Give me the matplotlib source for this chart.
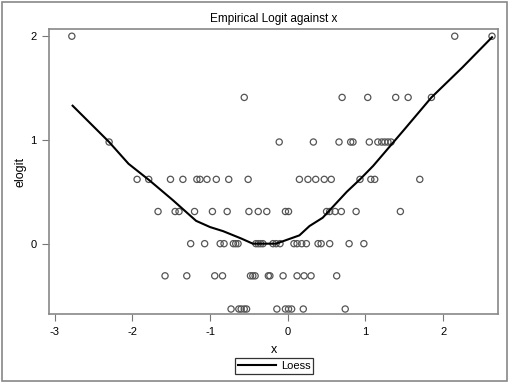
import matplotlib
matplotlib.use("Agg")
import matplotlib.pyplot as plt
from matplotlib.patches import Rectangle

plt.rcParams['font.family'] = ['Liberation Sans', 'DejaVu Sans']
plt.rcParams['axes.unicode_minus'] = False

# empirical logit levels and the x values observed at each level
levels = [2.0, 1.41, 0.98, 0.62, 0.31, 0.0, -0.31, -0.63]
x_at_2 = [-2.78, 2.15, 2.63]
x_at_141 = [-0.56, 0.70, 1.03, 1.39, 1.55, 1.85]
x_at_098 = [-2.30, -0.11, 0.33, 0.66, 0.81, 0.84, 1.05, 1.16, 1.21, 1.25, 1.29, 1.33]
x_at_062 = [-1.94, -1.79, -1.51, -1.35, -1.17, -1.13, -1.04, -0.92, -0.76, -0.51,
            0.15, 0.26, 0.36, 0.47, 0.56, 0.93, 1.07, 1.12, 1.70]
x_at_031 = [-1.67, -1.45, -1.40, -1.20, -0.97, -0.78, -0.50, -0.38, -0.27, -0.03,
            0.01, 0.50, 0.54, 0.61, 0.69, 0.88, 1.45]
x_at_0 = [-1.25, -1.07, -0.87, -0.82, -0.70, -0.67, -0.64, -0.41, -0.38, -0.35,
          -0.32, -0.19, -0.15, -0.10, 0.08, 0.12, 0.18, 0.24, 0.39, 0.43, 0.54,
          0.79, 0.98]
x_at_m031 = [-1.58, -1.30, -0.94, -0.84, -0.48, -0.45, -0.42, -0.25, -0.23, -0.06,
             0.12, 0.21, 0.30, 0.63]
x_at_m063 = [-0.73, -0.63, -0.60, -0.56, -0.53, -0.14, -0.03, 0.01, 0.05, 0.20, 0.74]
x_groups = [x_at_2, x_at_141, x_at_098, x_at_062, x_at_031, x_at_0, x_at_m031, x_at_m063]

# loess fit
loess_x = [-2.77, -2.30, -2.05, -1.78, -1.48, -1.18, -1.00, -0.83, -0.60, -0.45,
           -0.15, 0.15, 0.28, 0.45, 0.76, 0.93, 1.10, 1.50, 1.85, 2.25, 2.63]
loess_y = [1.33, 0.98, 0.77, 0.61, 0.42, 0.22, 0.16, 0.12, 0.05, 0.00,
           0.00, 0.08, 0.17, 0.25, 0.50, 0.62, 0.75, 1.10, 1.41, 1.70, 1.99]

xs = []
ys = []
for lev, grp in zip(levels, x_groups):
    xs += grp
    ys += [lev] * len(grp)

fig = plt.figure(figsize=(5.11, 3.86), dpi=100)
ax = fig.add_axes([0.0965, 0.186, 0.8785, 0.739])

ax.scatter(xs, ys, s=20, facecolors='none', edgecolors='#555555', linewidths=0.9, zorder=2)
line, = ax.plot(loess_x, loess_y, color='black', lw=1.5, zorder=3)

ax.set_xlim(-3.07, 2.71)
ax.set_ylim(-0.68, 2.07)
ax.set_xticks([-3, -2, -1, 0, 1, 2])
ax.set_yticks([0, 1, 2])
ax.tick_params(direction='out', length=5, color='#777777', labelsize=8, pad=4)
for sp in ax.spines.values():
    sp.set_color('#888888')
    sp.set_linewidth(1.2)

ax.set_title('Empirical Logit against x', fontsize=8.5, pad=5)
ax.set_xlabel('x', fontsize=9, labelpad=5)
ax.set_ylabel('elogit', fontsize=9, labelpad=3)

leg = fig.legend([line], ['Loess'], loc='center', bbox_to_anchor=(274 / 511, 1 - 366 / 386),
                 fontsize=8, frameon=True, fancybox=False, handlelength=3.5,
                 borderpad=0.25, handletextpad=0.4, borderaxespad=0)
leg.get_frame().set_edgecolor('black')
leg.get_frame().set_linewidth(0.9)

fig.patches.append(Rectangle((2 / 511, 5 / 386), 505 / 511, 379 / 386, transform=fig.transFigure,
                             fill=False, edgecolor='#888888', linewidth=1.2))

fig.savefig('out.png', dpi=100)
